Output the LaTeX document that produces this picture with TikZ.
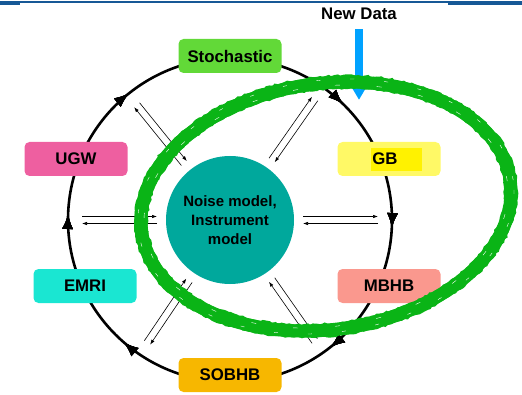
\documentclass[tikz,border=0pt]{standalone}
\usepackage{fontspec}
\setmainfont{Liberation Sans}
\usetikzlibrary{arrows.meta,calc,decorations.markings,decorations.pathmorphing}
\definecolor{headblue}{RGB}{22,88,150}
\definecolor{datablue}{RGB}{0,162,255}
\definecolor{stochgreen}{RGB}{98,217,56}
\definecolor{gbyellow}{RGB}{255,249,102}
\definecolor{mbhbred}{RGB}{250,152,142}
\definecolor{sobhborange}{RGB}{247,183,0}
\definecolor{emricyan}{RGB}{26,230,210}
\definecolor{ugwpink}{RGB}{238,95,160}
\definecolor{noiseteal}{RGB}{0,168,156}
\definecolor{brushgreen}{RGB}{10,180,22}
\tikzset{
  tag/.style={font=\bfseries\fontsize{16.8}{17}\selectfont},
  source/.style={tag, rounded corners=5pt, minimum width=103pt, minimum height=34pt, inner sep=0pt},
  pair/.style={-{Latex[length=5pt,width=3.5pt]}, line width=0.6pt},
  turn/.style={decoration={markings, mark=at position #1 with {\arrowreversed{Latex[length=15pt,width=11pt]}}}, postaction=decorate},
  rough/.style={brushgreen, line width=1.6pt, decorate, decoration={random steps, segment length=3pt, amplitude=1pt}},
}
\begin{document}
\begin{tikzpicture}[>=latex, x=1pt, y=1pt]
\useasboundingbox (0,0) rectangle (522,394);
% header rule
\fill[headblue] (0,390.7) rectangle (522,392.7);
\fill[headblue] (0,389) rectangle (20,392.7);
\fill[headblue] (448,389) rectangle (522,392.7);
% the cycle of sources
\coordinate (c) at (230,174);
\draw[line width=2.6pt, turn=0.127, turn=0.357, turn=0.494, turn=0.636, turn=0.856, turn=0.992] (c) circle (162);
\node[circle, fill=noiseteal, minimum size=128pt, inner sep=0pt, align=center,
  font=\bfseries\fontsize{15}{19}\selectfont] (noise) at (c) {Noise model,\\Instrument\\model};
\foreach \a in {0,55,129,180,236,305} {
  \draw[pair] ($(noise.center)+(\a:148)+(\a-90:3.5)$) -- ($(noise.center)+(\a:73)+(\a-90:3.5)$);
  \draw[pair] ($(noise.center)+(\a:73)+(\a+90:3.5)$) -- ($(noise.center)+(\a:148)+(\a+90:3.5)$);
}
\node[source, fill=stochgreen] (stoch) at (230,338) {Stochastic};
\node[source, fill=gbyellow] (gb) at (389,235) {};
\fill[yellow] (371,223) rectangle (422,246);
\node[tag] (gbtext) at (385,235) {GB};
\node[source, fill=mbhbred] (mbhb) at (389,108) {MBHB};
\node[source, fill=sobhborange] (sobhb) at (230,19) {SOBHB};
\node[source, fill=emricyan] (emri) at (85,108) {EMRI};
\node[source, fill=ugwpink] (ugw) at (76,235) {UGW};
% new data
\node[tag] (newdata) at (359,380) {New Data};
\coordinate (drop) at (359,294);
\draw[datablue, line width=8pt, -{Triangle[length=22pt,width=24pt]}] ([yshift=-6pt]newdata.south) -- (drop);
% hand drawn ring
\begin{scope}[shift={(326,187.5)}, rotate=8]
\draw[brushgreen, line width=13pt] (0,0) ellipse (186 and 123);
\draw[rough] (0,0) ellipse (192 and 129);
\draw[rough] (0,0) ellipse (180 and 117);
\draw[white, line width=0.4pt, dash pattern=on 4pt off 30pt] (0,0) ellipse (189 and 126);
\draw[white, line width=0.4pt, dash pattern=on 5pt off 37pt] (0,0) ellipse (183 and 120);
\end{scope}
\end{tikzpicture}
\end{document}
